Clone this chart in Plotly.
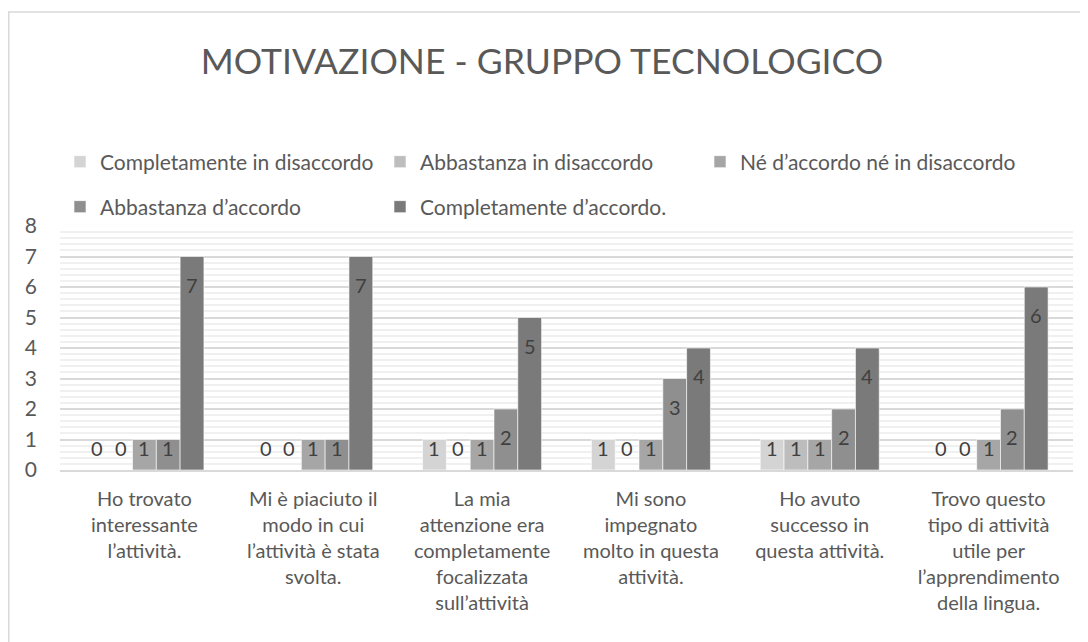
import plotly.graph_objects as go

categories = [
    "Ho trovato<br>interessante<br>l’attività.",
    "Mi è piaciuto il<br>modo in cui<br>l’attività è stata<br>svolta.",
    "La mia<br>attenzione era<br>completamente<br>focalizzata<br>sull’attività",
    "Mi sono<br>impegnato<br>molto in questa<br>attività.",
    "Ho avuto<br>successo in<br>questa attività.",
    "Trovo questo<br>tipo di attività<br>utile per<br>l’apprendimento<br>della lingua.",
]
series_names = [
    "Completamente in disaccordo",
    "Abbastanza in disaccordo",
    "Né d’accordo né in disaccordo",
    "Abbastanza d’accordo",
    "Completamente d’accordo.",
]
completamente_disaccordo = [0, 0, 1, 1, 1, 0]
abbastanza_disaccordo = [0, 0, 0, 0, 1, 0]
neutro = [1, 1, 1, 1, 1, 1]
abbastanza_accordo = [1, 1, 2, 3, 2, 2]
completamente_accordo = [7, 7, 5, 4, 4, 6]
values = [completamente_disaccordo, abbastanza_disaccordo, neutro,
          abbastanza_accordo, completamente_accordo]
colors = ["#d4d4d4", "#bdbdbd", "#a6a6a6", "#8f8f8f", "#7a7a7a"]
y_ticks = list(range(0, 9))

FONT = "Lato, sans-serif"
TXT = "#595959"
# page has an 8px body margin, so the figure is placed at (8, 8)
W, H = 1080, 634
ML, MR, MT, MB = 52, 15, 218, 172
BARGAP = 0.295

fig = go.Figure()
xs = list(range(len(categories)))
for i, (name, vals, col) in enumerate(zip(series_names, values, colors)):
    fig.add_trace(go.Bar(
        x=xs, y=vals, name=name,
        marker=dict(color=col, line=dict(color="white", width=0.6)),
        legend="legend" if i < 3 else "legend2",
        hoverinfo="y+name",
    ))

# data labels (Excel-like "inside end")
plot_h = H - MT - MB
pw = W - ML - MR
unit_px = plot_h / 8
n = len(series_names)
gw = 1 - BARGAP
for i, vals in enumerate(values):
    off = -gw / 2 + (i + 0.5) * gw / n
    for c, v in enumerate(vals):
        if v * unit_px > 50:
            yy, ys = v, -28
        else:
            yy, ys = 0, 22
        fig.add_annotation(x=c + off, y=yy, yshift=ys, text=str(v),
                           showarrow=False, xref="x", yref="y",
                           font=dict(family=FONT, size=20, color="#404040"),
                           xanchor="center", yanchor="middle")

# chart border
fig.add_shape(type="rect", xref="paper", yref="paper",
              x0=(0.75 - ML) / pw, x1=(W + 20 - ML) / pw,
              y0=-(MB + 20) / plot_h, y1=((H - MB) - 4) / plot_h,
              line=dict(color="#d9d9d9", width=1.5), fillcolor="rgba(0,0,0,0)",
              layer="below")

legend_common = dict(orientation="h", x=0, xanchor="left", yanchor="middle",
                     font=dict(family=FONT, size=21, color=TXT),
                     entrywidth=275, entrywidthmode="pixels",
                     bgcolor="rgba(0,0,0,0)")

fig.update_layout(
    width=W, height=H,
    margin=dict(l=ML, r=MR, t=MT, b=MB),
    paper_bgcolor="white", plot_bgcolor="white",
    barmode="group", bargap=BARGAP, bargroupgap=0,
    title=dict(text="MOTIVAZIONE - GRUPPO TECNOLOGICO",
               x=(542 - 8) / W, xref="container", xanchor="center",
               y=1 - 54 / H, yref="container", yanchor="middle",
               font=dict(family=FONT, size=35.5, color=TXT)),
    legend=dict(legend_common, y=((H - MB) - 154) / plot_h),
    legend2=dict(legend_common, y=((H - MB) - 199) / plot_h),
    showlegend=True,
    xaxis=dict(tickmode="array", tickvals=xs, ticktext=categories,
               range=[-0.5, len(categories) - 0.5],
               showgrid=False, zeroline=False,
               showline=True, linecolor="#d9d9d9", linewidth=2,
               ticks="", ticklabelstandoff=10,
               tickfont=dict(family=FONT, size=20, color=TXT)),
    yaxis=dict(range=[0, 8], tickmode="array", tickvals=y_ticks,
               gridcolor="#d9d9d9", gridwidth=1.5, zeroline=False,
               showline=False, ticks="", ticklabelstandoff=22,
               tickfont=dict(family=FONT, size=21, color=TXT),
               minor=dict(dtick=0.2, showgrid=True, gridcolor="#f0f0f0",
                          gridwidth=1.5)),
)

fig.write_html("out.html")
